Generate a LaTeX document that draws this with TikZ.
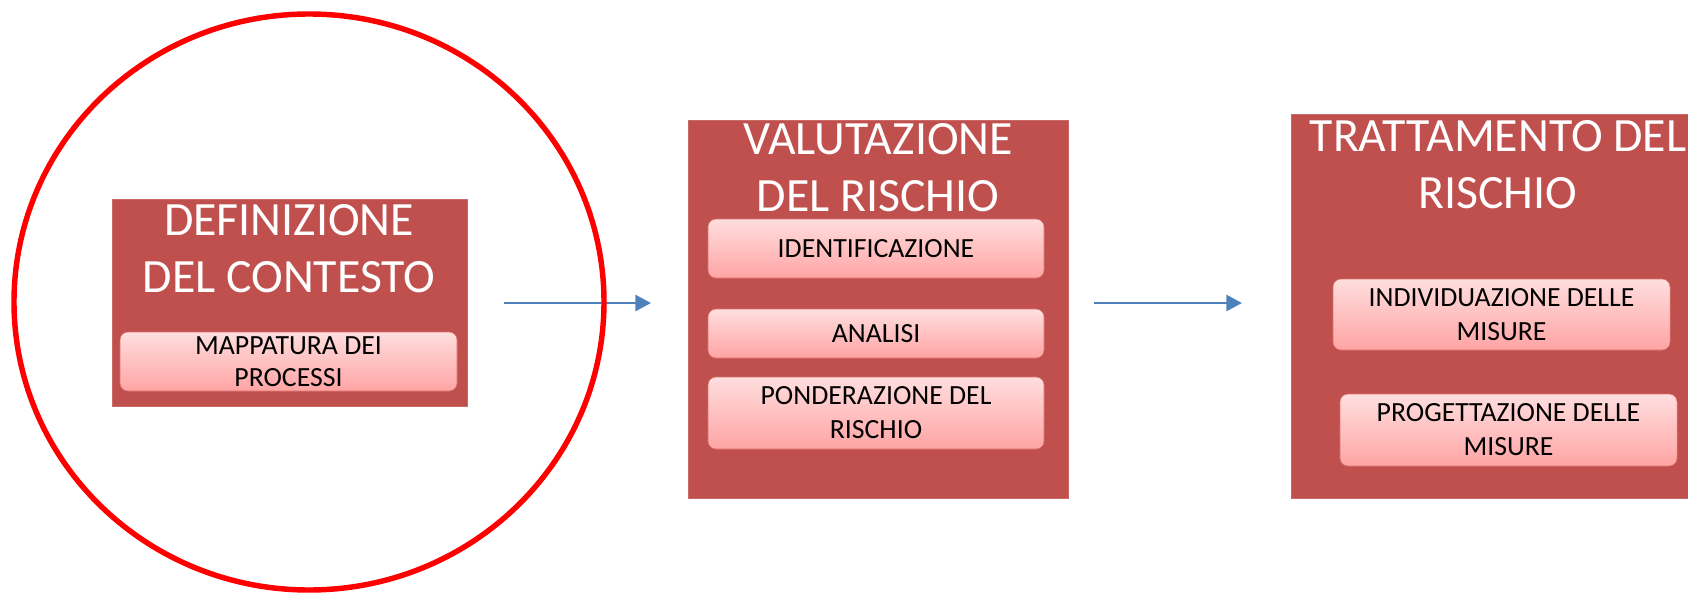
\documentclass[tikz,border=0pt]{standalone}
\usepackage{fontspec}
\setmainfont{Carlito}
\usepackage{tikz}
\usetikzlibrary{fit,arrows.meta}

\definecolor{boxred}{HTML}{C0504D}
\definecolor{subtop}{HTML}{FFDEDE}
\definecolor{subbot}{HTML}{FFA4A4}
\definecolor{subedge}{HTML}{D8716E}
\definecolor{arrowblue}{HTML}{4F81BD}
\newcommand{\pxl}{0.02cm}

\begin{document}
\begin{tikzpicture}[x=0.02cm, y=-0.02cm,
    fase/.style={fill=boxred, draw=boxred!85!white, line width=0.3pt, inner sep=0pt},
    titolo/.style={text=white, font=\fontsize{27.2}{32.4}\selectfont, align=center, anchor=north, inner sep=0pt},
    attivita/.style={rounded corners=4.5pt, top color=subtop, bottom color=subbot, draw=subedge, line width=0.3pt,
        inner sep=0pt, align=center, font=\fontsize{15.8}{19.3}\selectfont},
    freccia/.style={draw=arrowblue, line width=1.5pt, -{Triangle[length=8.9pt, width=9.1pt]}}]

        \useasboundingbox (0,0) rectangle (1688,592);

        % the three phases
        \node[fase, fit={(112,199) (467,406)}] (contesto) {};
        \node[fase, fit={(688,120) (1068,498)}] (valutazione) {};
        \node[fase, fit={(1291,114) (1688,498)}] (trattamento) {};

        \node[titolo] (tcontesto) at (289,204) {DEFINIZIONE\\DEL CONTESTO};
        \node[titolo] (tvalutazione) at (878,123) {VALUTAZIONE\\DEL RISCHIO};
        \node[titolo] (ttrattamento) at (1498,120) {TRATTAMENTO DEL\\RISCHIO};

        % activities
        \node[attivita, minimum width=337*\pxl, minimum height=59*\pxl,
            font=\fontsize{15.8}{18.2}\selectfont] (mappatura) at (288.5,361.5) {MAPPATURA DEI\\PROCESSI};

        \node[attivita, minimum width=336*\pxl, minimum height=59*\pxl] (identif) at (876,248.5) {IDENTIFICAZIONE};
        \node[attivita, minimum width=336*\pxl, minimum height=49*\pxl] (analisi) at (876,333.5) {ANALISI};
        \node[attivita, minimum width=336*\pxl, minimum height=72*\pxl] (ponder) at (876,413) {PONDERAZIONE DEL\\RISCHIO};

        \node[attivita, minimum width=337*\pxl, minimum height=71*\pxl] (individ) at (1501.5,314.5) {INDIVIDUAZIONE DELLE\\MISURE};
        \node[attivita, minimum width=337*\pxl, minimum height=72*\pxl] (progett) at (1508.5,430) {PROGETTAZIONE DELLE\\MISURE};

        % arrows between phases
        \coordinate (uno) at (504,303);
        \coordinate (due) at (651,303);
        \coordinate (tre) at (1094,303);
        \coordinate (quattro) at (1242,303);

        \draw[freccia] (uno) -- (due);
        \draw[freccia] (tre) -- (quattro);

        % red ring round the first phase
        \draw[red, line width=3.1pt] (309,302) ellipse [x radius=295, y radius=288];

    \end{tikzpicture}
\end{document}
